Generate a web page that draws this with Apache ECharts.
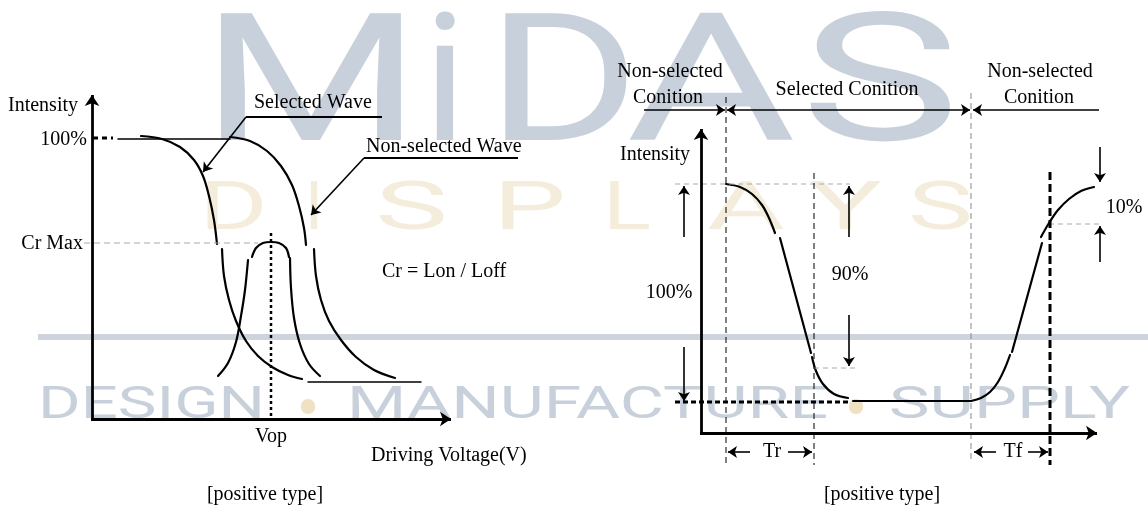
<!DOCTYPE html>
<html>
<head>
<meta charset="utf-8">
<script src="https://cdn.jsdelivr.net/npm/echarts/dist/echarts.min.js"></script>
<style>
  html, body { margin: 0; padding: 0; background: #fff; }
  #chart { width: 1148px; height: 510px; }
</style>
</head>
<body>
<div id="chart"></div>
<script>
// --- left diagram: intensity vs driving voltage (diagram units) ---
const selectedWaveTop = [[141,136],[162,139],[180,147],[194,160],[203,176],[209,196],[214,220],[217,244]];
const selectedWaveBottom = [[222,249],[224,276],[229,300],[236,321],[246,341],[258,356],[272,367],[288,375],[302,379]];
const nonSelectedTop = [[230,137],[250,141],[267,151],[281,166],[292,185],[299,206],[304,228],[306,245]];
const nonSelectedBottom = [[314,249],[316,276],[321,300],[329,321],[341,340],[356,357],[374,370],[395,378]];
const contrastRise = [[218,376],[228,363],[236,342],[241,316],[245,290],[248,260]];
const contrastTop = [[252,257],[256,248],[263,243],[271,242],[279,243],[286,248],[289,257]];
const contrastFall = [[290,258],[291,288],[294,318],[300,344],[309,364],[320,376]];
const leftTopLine = [[118,139],[230,139]];
const leftBottomLine = [[308,382],[421,382]];
const leftFullMark = [[93,138],[113,138]];
const crMaxLine = [[84,243],[258,243]];
const vopLine = [[271,233],[271,421]];

// --- right diagram: intensity vs time ---
const riseStart = [[726,184],[740,187],[752,194],[762,205],[769,218],[775,233]];
const riseSteep = [[780,238],[811,353]];
const riseEnd = [[812,357],[816,371],[823,384],[834,394],[848,398]];
const selectedFlat = [[853,401],[971,401]];
const fallStart = [[971,401],[981,398],[990,392],[998,382],[1005,368],[1010,355]];
const fallSteep = [[1012,352],[1042,243]];
const fallEnd = [[1041,237],[1049,223],[1058,210],[1069,199],[1081,191],[1094,187]];
const peakRefLine = [[675,184],[850,184]];
const ninetyRefLine = [[814,368],[859,368]];
const tenRefLine = [[1049,224],[1099,224]];
const baseRefLine = [[675,402],[850,402]];
const thinGuides = [[[726,97],[726,465]], [[814,173],[814,465]]];
const greyGuide = [[971,93],[971,462]];
const thickGuide = [[1050,172],[1050,465]];

// axes (start -> arrow end)
const axisArrows = [
  [[92,420],[92,95]], [[91,419],[451,419]],
  [[701,434],[701,129]], [[700,433],[1097,433]]
];
// annotation arrows (start -> arrow end)
const annotArrows = [
  [[644,110],[725,110]], [[1099,110],[973,110]],
  [[684,237],[684,186]], [[684,347],[684,401]],
  [[849,237],[849,186]], [[849,315],[849,366]],
  [[1100,147],[1100,182]], [[1100,262],[1100,226]],
  [[750,452],[728,452]], [[788,452],[812,452]],
  [[996,452],[974,452]], [[1028,452],[1048,452]],
  [[246,117],[203,172]], [[364,158],[311,215]]
];
const doubleArrows = [[[727,110],[970,110]]];
const leaderLines = [[[382,117],[246,117]], [[518,158],[364,158]]];

const chart = echarts.init(document.getElementById('chart'), null, { renderer: 'canvas' });

function curve(pts, width) {
  return {
    type: 'line', data: pts, smooth: 0.35, showSymbol: false, silent: true,
    lineStyle: { color: '#000', width: width || 2.2, cap: 'round' }, z: 3
  };
}
function dashed(pts, color, width, dash) {
  return {
    type: 'line', data: pts, showSymbol: false, silent: true,
    lineStyle: { color: color, width: width, type: dash }, z: 3
  };
}
function arrows(list, symbol, width, size) {
  return {
    type: 'lines', coordinateSystem: 'cartesian2d', silent: true,
    symbol: symbol, symbolSize: size,
    lineStyle: { color: '#000', width: width, opacity: 1, curveness: 0 },
    data: list.map(c => ({ coords: c })), z: 4
  };
}

const series = [
  curve(selectedWaveTop), curve(selectedWaveBottom),
  curve(nonSelectedTop), curve(nonSelectedBottom),
  curve(contrastRise), curve(contrastTop), curve(contrastFall),
  curve(leftTopLine, 1.5), curve(leftBottomLine, 1.5),
  dashed(leftFullMark, '#000', 3, [5, 4]),
  dashed(crMaxLine, '#aaa', 1, [6, 4]),
  dashed(vopLine, '#000', 2.5, [3, 3]),
  curve(riseStart), curve(riseSteep), curve(riseEnd), curve(selectedFlat, 2),
  curve(fallStart), curve(fallSteep), curve(fallEnd),
  dashed(peakRefLine, '#aaa', 1, [5, 4]),
  dashed(ninetyRefLine, '#aaa', 1, [5, 4]),
  dashed(tenRefLine, '#aaa', 1, [5, 4]),
  dashed(baseRefLine, '#000', 3, [5, 3]),
  dashed(thinGuides[0], '#000', 1, [6, 4]),
  dashed(thinGuides[1], '#000', 1, [6, 4]),
  dashed(greyGuide, '#888', 1, [6, 4]),
  dashed(thickGuide, '#000', 3, [8, 4]),
  arrows(axisArrows, ['none', 'arrow'], 2.8, 11),
  arrows(annotArrows, ['none', 'arrow'], 1.6, 9),
  arrows(doubleArrows, ['arrow', 'arrow'], 1.6, 9),
  arrows(leaderLines, ['none', 'none'], 2.2, 0)
];

// watermark text, stretched to the measured letter boxes
const measure = document.createElement('canvas').getContext('2d');
function mark(text, left, right, cy, cap, color, weight, stretch) {
  const size = cap / 0.711;
  const font = (weight || 400) + ' ' + size.toFixed(1) + 'px Roboto';
  measure.font = font;
  const w = measure.measureText(text).width;
  const sx = stretch === false ? 1 : (right - left) / w;
  return {
    type: 'text', x: (left + right) / 2, y: cy, scaleX: sx, z: 0, silent: true,
    style: { text: text, font: font, fill: color, align: 'center', verticalAlign: 'middle',
             textAlign: 'center', textVerticalAlign: 'middle' }
  };
}
const blue = '#c8d1db', beige = '#f5eddc', dot = '#f0e1c2';
const watermark = [
  mark('M', 200, 422, 95, 127, blue, 400),
  mark('i', 445, 445, 95, 127, blue, 400, false),
  mark('D', 486, 640, 95, 127, blue, 400),
  mark('A', 626, 796, 95, 127, blue, 400),
  mark('S', 800, 960, 95, 127, blue, 400),
  mark('D', 199, 268, 212, 47, beige, 400),
  mark('I', 314, 314, 212, 47, beige, 400, false),
  mark('S', 375, 448, 212, 47, beige, 400),
  mark('P', 493, 566, 212, 47, beige, 400),
  mark('L', 603, 651, 212, 47, beige, 400),
  mark('A', 707, 785, 212, 47, beige, 400),
  mark('Y', 809, 882, 212, 47, beige, 400),
  mark('S', 908, 973, 212, 47, beige, 400),
  { type: 'line', z: 0, silent: true, shape: { x1: 38, y1: 337, x2: 1148, y2: 337 },
    style: { stroke: '#cdd4dc', lineWidth: 6 } },
  mark('DESIGN', 38, 265, 407, 31, blue, 400),
  mark('\u2022', 308, 308, 414, 50, dot, 400, false),
  mark('MANUFACTURE', 347, 828, 407, 31, blue, 400),
  mark('\u2022', 856, 856, 414, 50, dot, 400, false),
  mark('SUPPLY', 889, 1130, 407, 31, blue, 400)
];

function label(text, x, y, align) {
  return {
    type: 'text', x: x, y: y, z: 100, silent: true,
    style: { text: text, font: '20px "Liberation Serif"', fill: '#000',
             align: align || 'center', verticalAlign: 'middle',
             textAlign: align || 'center', textVerticalAlign: 'middle' }
  };
}
const labels = [
  label('Intensity', 8, 106, 'left'),
  label('100%', 87, 140, 'right'),
  label('Cr Max', 83, 244, 'right'),
  label('Selected Wave', 254, 103, 'left'),
  label('Non-selected Wave', 366, 147, 'left'),
  label('Cr = Lon / Loff', 382, 272, 'left'),
  label('Vop', 271, 437),
  label('Driving Voltage(V)', 371, 456, 'left'),
  label('[positive type]', 265, 495),
  label('Non-selected', 670, 72),
  label('Conition', 668, 98),
  label('Selected Conition', 847, 90),
  label('Non-selected', 1040, 72),
  label('Conition', 1039, 98),
  label('Intensity', 655, 155),
  label('100%', 669, 293),
  label('90%', 850, 275),
  label('10%', 1124, 208),
  label('Tr', 772, 452),
  label('Tf', 1013, 452),
  label('[positive type]', 882, 495)
];

const option = {
  animation: false,
  backgroundColor: '#fff',
  grid: { left: 0, right: 0, top: 0, bottom: 0 },
  xAxis: { type: 'value', min: 0, max: 1148, show: false },
  yAxis: { type: 'value', min: 0, max: 510, inverse: true, show: false },
  graphic: { elements: watermark.concat(labels) },
  series: series
};

option && chart.setOption(option);

window.addEventListener('resize', () => {
  chart.resize();
});
</script>
</body>
</html>
